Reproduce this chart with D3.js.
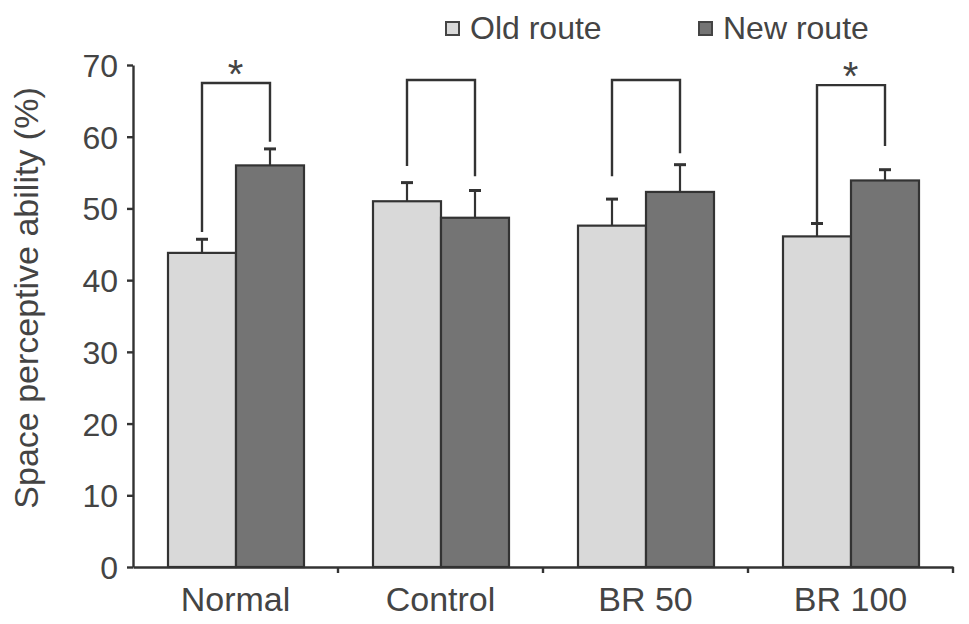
<!DOCTYPE html>
<html>
<head>
  <meta charset="UTF-8">
  <script src="https://d3js.org/d3.v7.min.js"></script>
  <title>Space perceptive ability</title>
  <style type="text/css">
    html, body { margin:0; padding:0; background:#fff; }
    text { font-family: "Liberation Sans", Arial, Helvetica, sans-serif; fill:#444; }
  </style>
</head>
<body>
<div id="chart"></div>
<script>
  // data
  var categories = ["Normal", "Control", "BR 50", "BR 100"];
  var seriesNames = ["Old route", "New route"];
  var oldRoute = [43.8, 51.0, 47.6, 46.1];
  var newRoute = [56.0, 48.7, 52.3, 53.9];
  var oldErr = [1.9, 2.6, 3.7, 1.8];
  var newErr = [2.3, 3.8, 3.8, 1.5];
  // comparison brackets
  var bracketTop = [67.5, 67.9, 67.9, 67.2];
  var bracketOldEnd = [46.7, 55.9, 54.5, 47.9];
  var bracketNewEnd = [59.3, 54.5, 57.7, 58.7];
  var significance = ["*", "", "", "*"];
  var yTicks = [0, 10, 20, 30, 40, 50, 60, 70];

  var svgWidth = 969, svgHeight = 624;
  var margin = {top: 65, right: 16, bottom: 57, left: 133};
  var width = svgWidth - margin.left - margin.right,
      height = svgHeight - margin.top - margin.bottom;
  var colors = ["#d9d9d9", "#747474"];

  var svg = d3.select("#chart")
    .append("svg")
    .attr("width", svgWidth)
    .attr("height", svgHeight);

  var g = svg.append("g")
    .attr("transform", "translate(" + margin.left + "," + margin.top + ")");

  var xScale = d3.scaleBand().domain(categories).range([0, width]).padding(0);
  var xInner = d3.scaleBand().domain(seriesNames)
    .range([35, xScale.bandwidth() - 34]).padding(0);
  var yScale = d3.scaleLinear().domain([0, 70]).range([height, 0]);

  var rows = categories.map(function(c, i) {
    return {cat: c, vals: [
      {s: seriesNames[0], v: oldRoute[i], e: oldErr[i], b: bracketOldEnd[i]},
      {s: seriesNames[1], v: newRoute[i], e: newErr[i], b: bracketNewEnd[i]}
    ], top: bracketTop[i], sig: significance[i]};
  });

  // bars
  var groups = g.selectAll(".grp")
    .data(rows)
    .enter()
    .append("g")
    .attr("class", "grp")
    .attr("transform", function(d) { return "translate(" + xScale(d.cat) + ",0)"; });

  groups.selectAll("rect")
    .data(function(d) { return d.vals; })
    .enter()
    .append("rect")
    .attr("x", function(d) { return xInner(d.s); })
    .attr("y", function(d) { return yScale(d.v); })
    .attr("width", xInner.bandwidth())
    .attr("height", function(d) { return height - yScale(d.v); })
    .attr("fill", function(d, i) { return colors[i]; })
    .attr("stroke", "#333")
    .attr("stroke-width", 2.2);

  // error bars (upper only)
  var err = groups.selectAll(".err")
    .data(function(d) { return d.vals; })
    .enter()
    .append("g")
    .attr("class", "err")
    .attr("stroke", "#333")
    .attr("stroke-width", 2.2);

  err.append("line")
    .attr("x1", function(d) { return xInner(d.s) + xInner.bandwidth() / 2; })
    .attr("x2", function(d) { return xInner(d.s) + xInner.bandwidth() / 2; })
    .attr("y1", function(d) { return yScale(d.v); })
    .attr("y2", function(d) { return yScale(d.v + d.e); });

  err.append("line")
    .attr("x1", function(d) { return xInner(d.s) + xInner.bandwidth() / 2 - 6; })
    .attr("x2", function(d) { return xInner(d.s) + xInner.bandwidth() / 2 + 6; })
    .attr("y1", function(d) { return yScale(d.v + d.e); })
    .attr("y2", function(d) { return yScale(d.v + d.e); })
    .attr("stroke-width", 3);

  // brackets
  groups.append("path")
    .attr("fill", "none")
    .attr("stroke", "#333")
    .attr("stroke-width", 2.4)
    .attr("d", function(d) {
      var xa = xInner(seriesNames[0]) + xInner.bandwidth() / 2,
          xb = xInner(seriesNames[1]) + xInner.bandwidth() / 2;
      return "M" + xa + "," + yScale(d.vals[0].b) +
             "V" + yScale(d.top) + "H" + xb + "V" + yScale(d.vals[1].b);
    });

  groups.append("text")
    .attr("x", xScale.bandwidth() / 2)
    .attr("y", function(d) { return yScale(d.top) + 5; })
    .attr("text-anchor", "middle")
    .style("font-size", "40px")
    .style("font-weight", "300")
    .text(function(d) { return d.sig; });

  // y axis
  var yAxis = g.append("g")
    .call(d3.axisLeft(yScale).tickValues(yTicks).tickSize(6).tickPadding(9).tickSizeOuter(0));
  yAxis.selectAll("text").style("font-size", "32px").attr("fill", "#444")
    .attr("font-family", null).attr("dy", "0.36em");

  // x axis: ticks at band boundaries
  var xAxis = g.append("g")
    .attr("transform", "translate(0," + height + ")")
    .call(d3.axisBottom(xScale).tickSize(0).tickPadding(20).tickSizeOuter(0));
  xAxis.selectAll("text").style("font-size", "34px").attr("fill", "#444")
    .attr("font-family", null);
  xAxis.selectAll(".bound")
    .data(categories)
    .enter()
    .append("line")
    .attr("x1", function(d) { return xScale(d) + xScale.bandwidth(); })
    .attr("x2", function(d) { return xScale(d) + xScale.bandwidth(); })
    .attr("y1", 0)
    .attr("y2", 6)
    .attr("stroke", "#333")
    .attr("stroke-width", 2.4);

  svg.selectAll(".domain, .tick line").attr("stroke", "#333").attr("stroke-width", 2.4);

  // y title
  svg.append("text")
    .attr("transform", "translate(38," + (margin.top + 233) + ") rotate(-90)")
    .attr("text-anchor", "middle")
    .style("font-size", "34px")
    .text("Space perceptive ability (%)");

  // legend
  var legendX = [446, 699];
  var legend = svg.selectAll(".legend")
    .data(seriesNames)
    .enter()
    .append("g")
    .attr("class", "legend")
    .attr("transform", function(d, i) { return "translate(" + legendX[i] + ",22)"; });

  legend.append("rect")
    .attr("width", 13)
    .attr("height", 13)
    .attr("fill", function(d, i) { return colors[i]; })
    .attr("stroke", "#444")
    .attr("stroke-width", 2);

  legend.append("text")
    .attr("x", 24)
    .attr("y", 17)
    .style("font-size", "32px")
    .text(function(d) { return d; });
</script>
</body>
</html>
